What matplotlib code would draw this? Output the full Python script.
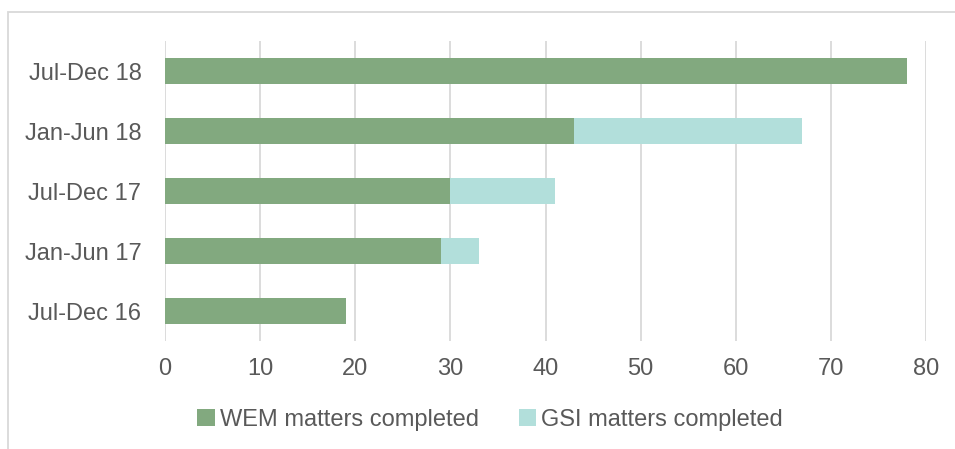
import matplotlib
matplotlib.use('Agg')
import matplotlib.pyplot as plt
from matplotlib.patches import Rectangle

periods = ['Jul-Dec 16', 'Jan-Jun 17', 'Jul-Dec 17', 'Jan-Jun 18', 'Jul-Dec 18']
wem = [19, 29, 30, 43, 78]
gsi = [0, 4, 11, 24, 0]

green = '#82a97f'
cyan = '#b2dfdb'
grid = '#d9d9d9'
text = '#595959'

plt.rcParams['font.family'] = ['Liberation Sans', 'DejaVu Sans']

fig = plt.figure(figsize=(9.55, 4.49), dpi=100)
W, H = 955, 449
ax = fig.add_axes([165 / W, 1 - 341 / H, (926 - 165) / W, 300 / H])

y = range(len(periods))
ax.barh(y, wem, height=0.43, color=green, label='WEM matters completed', zorder=3)
ax.barh(y, gsi, left=wem, height=0.43, color=cyan, label='GSI matters completed', zorder=3)

ax.set_xlim(0, 80)
ax.set_ylim(-0.5, 4.5)
ax.set_xticks(range(0, 81, 10))
ax.set_yticks(list(y))
ax.set_yticklabels(periods)
ax.tick_params(length=0, labelsize=17, colors=text)
ax.tick_params(axis='y', pad=17)
ax.tick_params(axis='x', pad=12)
ax.grid(axis='x', color=grid, linewidth=1.3, zorder=0)
for s in ax.spines.values():
    s.set_visible(False)

leg = fig.legend(loc='center', bbox_to_anchor=(490 / W, 1 - 420 / H), ncol=2,
                 frameon=False, fontsize=17, handlelength=0.75, handleheight=0.75,
                 handletextpad=0.2, columnspacing=1.7, labelcolor=text)

# outer chart border
fig.patches.append(Rectangle((8 / W, -0.05), 1.05, 1 - 12 / H + 0.05,
                             transform=fig.transFigure, fill=False,
                             edgecolor='#d9d9d9', linewidth=1.3))

fig.savefig('out.png', dpi=100, facecolor='white')
